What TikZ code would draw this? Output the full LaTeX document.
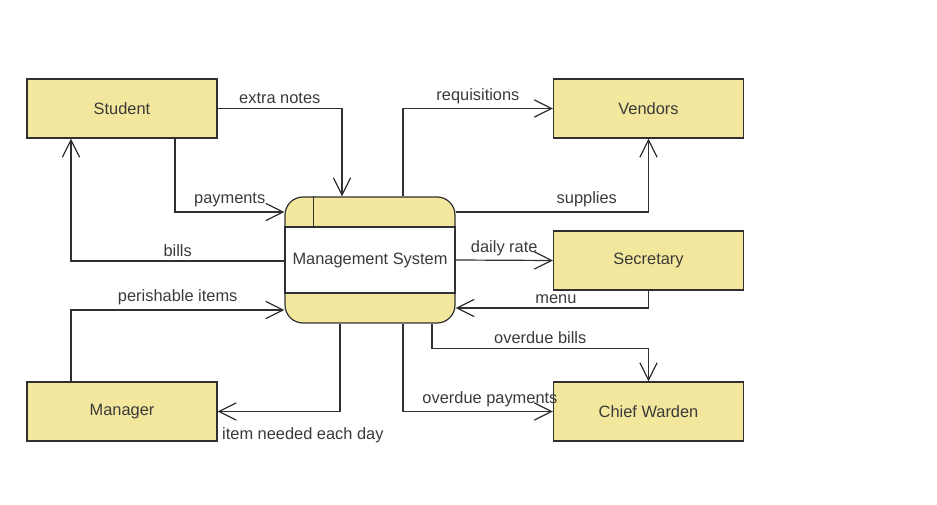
\documentclass[tikz,border=0pt]{standalone}
\usepackage{fontspec}
\setmainfont{Liberation Sans}
\usepackage{tikz}
\usetikzlibrary{arrows.meta,positioning,calc}
\definecolor{dfdYellow}{HTML}{F2E79D}
\definecolor{dfdLine}{HTML}{303030}
\definecolor{dfdText}{HTML}{3A3A3A}
\tikzset{
  entidad/.style={draw=dfdLine, line width=0.9pt, fill=dfdYellow, minimum width=142.5pt, minimum height=44.25pt, inner sep=0pt, font=\fontsize{12.3}{14}\selectfont, text=dfdText},
  proceso/.style={draw=dfdLine, line width=0.9pt, fill=dfdYellow, rounded corners=13.5pt, minimum width=127.5pt, minimum height=94.5pt, inner sep=0pt},
  procmid/.style={draw=dfdLine, line width=0.9pt, fill=white, minimum width=127.5pt, minimum height=49.5pt, inner sep=0pt, font=\fontsize{12.3}{14}\selectfont, text=dfdText},
  flujo/.style={-{Straight Barb[length=13pt, width=13pt, line width=0.9pt]}, line width=0.9pt, draw=dfdLine},
  etiqueta/.style={font=\fontsize{12.3}{14}\selectfont, text=dfdText, inner sep=3pt},
}
\begin{document}
\begin{tikzpicture}[x=0.75pt, y=-0.75pt]
\useasboundingbox (0,0) rectangle (937,505);
\node[entidad] (st) at (122,108.5) {Student};
\node[entidad] (ve) at (648.5,108.5) {Vendors};
\node[entidad] (se) at (648.5,260.5) {Secretary};
\node[entidad] (mg) at (122,411.5) {Manager};
\node[entidad] (cw) at (648.5,411.5) {Chief Warden};
\node[proceso] (ms) at (370,260) {};
\node[procmid] (msm) at (370,260) {Management System};
\draw[line width=0.9pt, draw=dfdLine] ($(ms.north west)+(29,0)$) -- ($(msm.north west)+(29,0)$);

\draw[flujo] (st.east) -| ($(ms.north)+(-28,0)$) node[etiqueta, above, pos=0.25] {extra notes};
\draw[flujo] ($(st.south)+(53,0)$) |- ($(ms.west)+(0,-48)$) node[etiqueta, above, pos=0.75] {payments};
\draw[flujo] ($(ms.west)+(0,1)$) -| ($(st.south)+(-51,0)$) node[etiqueta, above, pos=0.25] {bills};
\draw[flujo] ($(mg.north)+(-51,0)$) |- ($(ms.west)+(0,50)$) node[etiqueta, above, pos=0.75] {perishable items};
\draw[flujo] ($(ms.south)+(-30,0)$) |- (mg.east) node[etiqueta, below right, pos=1, yshift=-9pt] {item needed each day};
\draw[flujo] ($(ms.north)+(33,0)$) |- (ve.west) node[etiqueta, above, pos=0.75] {requisitions};
\draw[flujo] ($(ms.east)+(0,-48)$) -| (ve.south) node[etiqueta, above, pos=0.34] {supplies};
\draw[flujo] (ms.east) -- (se.west) node[etiqueta, above, midway] {daily rate};
\draw[flujo] (se.south) |- ($(ms.east)+(0,48)$) node[etiqueta, above, pos=0.74] {menu};
\draw[flujo] ($(ms.south)+(62,0)$) -- ++(0,25) -| (cw.north) node[etiqueta, above, pos=0.25] {overdue bills};
\draw[flujo] ($(ms.south)+(33,0)$) |- (cw.west) node[etiqueta, above, pos=0.79] {overdue payments};
\end{tikzpicture}
\end{document}
